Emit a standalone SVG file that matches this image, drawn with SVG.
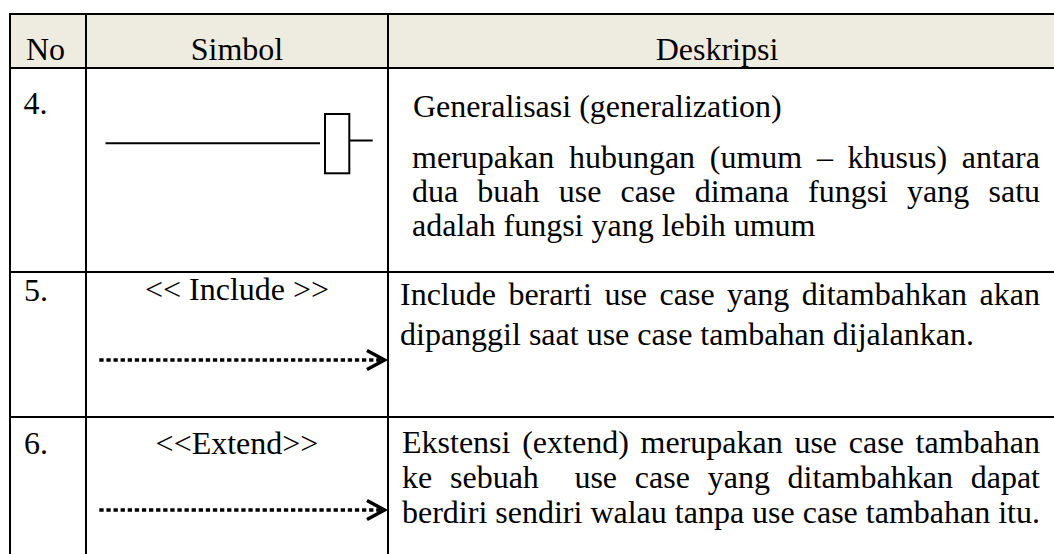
<svg xmlns="http://www.w3.org/2000/svg" width="1054" height="554" viewBox="0 0 1054 554">
  <style>
    .t { font-family: "Liberation Serif", "Times New Roman", serif; font-size: 32px; fill: #000; }
    .mid { text-anchor: middle; }
    .rule { stroke: #000; stroke-width: 2; fill: none; }
    .sym { stroke: #000; stroke-width: 2; fill: none; }
    .dots { stroke: #000; stroke-width: 3.5; stroke-dasharray: 4.3 2.8; fill: none; }
    .head { stroke: #000; stroke-width: 3.5; fill: none; stroke-linejoin: miter; }
  </style>

  <rect width="1054" height="554" fill="#fff"/>

  <!-- table frame and header band -->
  <g id="table-grid">
    <rect x="10" y="14" width="1044" height="54" fill="#EEECE1"/>
    <line class="rule" x1="9" y1="14" x2="1054" y2="14"/>
    <line class="rule" x1="10" y1="68" x2="1054" y2="68"/>
    <line class="rule" x1="10" y1="272" x2="1054" y2="272"/>
    <line class="rule" x1="10" y1="417" x2="1054" y2="417"/>
    <line class="rule" x1="10" y1="13" x2="10" y2="554"/>
    <line class="rule" x1="86" y1="13" x2="86" y2="554"/>
    <line class="rule" x1="388" y1="13" x2="388" y2="554"/>
  </g>

  <g id="header">
    <text class="t" x="26" y="60">No</text>
    <text class="t mid" x="237" y="60">Simbol</text>
    <text class="t mid" x="717" y="60">Deskripsi</text>
  </g>

  <!-- row 4: generalization -->
  <g id="row-4">
    <text class="t" x="23.5" y="114">4.</text>
    <text class="t" x="413" y="117">Generalisasi (generalization)</text>
    <text class="t" y="168"><tspan x="412">merupakan</tspan><tspan x="568.9">hubungan</tspan><tspan x="709.8">(umum</tspan><tspan x="816.9">–</tspan><tspan x="847.6">khusus)</tspan><tspan x="961.8">antara</tspan></text>
    <text class="t" y="202"><tspan x="412">dua</tspan><tspan x="477.3">buah</tspan><tspan x="558.7">use</tspan><tspan x="620.5">case</tspan><tspan x="694.7">dimana</tspan><tspan x="808">fungsi</tspan><tspan x="907.1">yang</tspan><tspan x="988.5">satu</tspan></text>
    <text class="t" x="412" y="236">adalah fungsi yang lebih umum</text>
  </g>

  <!-- row 5: include -->
  <g id="row-5">
    <text class="t" x="24" y="301">5.</text>
    <text class="t mid" x="237" y="300">&lt;&lt; Include &gt;&gt;</text>
    <text class="t" y="305"><tspan x="400">Include</tspan><tspan x="508.4">berarti</tspan><tspan x="604.4">use</tspan><tspan x="659.6">case</tspan><tspan x="727.1">yang</tspan><tspan x="801.8">ditambahkan</tspan><tspan x="979.6">akan</tspan></text>
    <text class="t" x="400" y="345">dipanggil saat use case tambahan dijalankan.</text>
  </g>

  <!-- row 6: extend -->
  <g id="row-6">
    <text class="t" x="24" y="454">6.</text>
    <text class="t mid" x="237" y="454">&lt;&lt;Extend&gt;&gt;</text>
    <text class="t" y="453"><tspan x="402">Ekstensi</tspan><tspan x="522.2">(extend)</tspan><tspan x="640.5">merupakan</tspan><tspan x="794.4">use</tspan><tspan x="848.8">case</tspan><tspan x="915.6">tambahan</tspan></text>
    <text class="t" y="488"><tspan x="402">ke</tspan><tspan x="450">sebuah</tspan><tspan x="574.4">use</tspan><tspan x="634.8">case</tspan><tspan x="707.7">yang</tspan><tspan x="787.6">ditambahkan</tspan><tspan x="970.7">dapat</tspan></text>
    <text class="t" x="402" y="523">berdiri sendiri walau tanpa use case tambahan itu.</text>
  </g>

  <!-- relationship symbols drawn in the Simbol column -->
  <g id="connectors">
    <g id="generalization-symbol">
      <line class="sym" x1="105.5" y1="143.3" x2="320" y2="143.3"/>
      <rect class="sym" x="325" y="114" width="24.3" height="59.3"/>
      <line class="sym" x1="349.3" y1="140.5" x2="372.7" y2="140.5"/>
    </g>
    <g id="include-arrow">
      <line class="dots" x1="99.3" y1="360" x2="381" y2="360"/>
      <polyline class="head" points="367,350.5 384.5,360 367,369.5"/>
    </g>
    <g id="extend-arrow">
      <line class="dots" x1="99.3" y1="510" x2="381" y2="510"/>
      <polyline class="head" points="367,500.5 384.5,510 367,519.5"/>
    </g>
  </g>
</svg>
